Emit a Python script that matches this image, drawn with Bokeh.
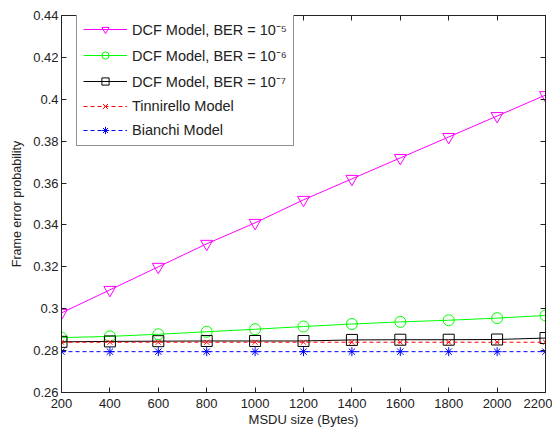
from bokeh.plotting import figure
from bokeh.models import (LinearAxis, FixedTicker, NumeralTickFormatter, Range1d,
                          Legend, LegendItem)
from bokeh.embed import file_html
from bokeh.resources import INLINE

msdu = [200, 400, 600, 800, 1000, 1200, 1400, 1600, 1800, 2000, 2200]
dcf_1e5 = [0.298, 0.309, 0.320, 0.331, 0.341, 0.352, 0.362, 0.372, 0.382, 0.392, 0.402]
dcf_1e6 = [0.2862, 0.2868, 0.2878, 0.2890, 0.2902, 0.2915, 0.2927, 0.2937, 0.2945, 0.2955, 0.2968]
dcf_1e7 = [0.2842, 0.2844, 0.2845, 0.2846, 0.2846, 0.2846, 0.2851, 0.2852, 0.2852, 0.2853, 0.2860]
tinnirello = [0.2840] * 11
bianchi = [0.2795] * 11

x_ticks = [200, 400, 600, 800, 1000, 1200, 1400, 1600, 1800, 2000, 2200]
y_ticks = [0.26, 0.28, 0.30, 0.32, 0.34, 0.36, 0.38, 0.40, 0.42, 0.44]

FONT = "Liberation Sans"

p = figure(width=552, height=429, output_backend="svg", toolbar_location=None,
           x_range=Range1d(200, 2200), y_range=Range1d(0.26, 0.44),
           min_border_left=61, min_border_right=7, min_border_top=15, min_border_bottom=36)
p.xgrid.visible = False
p.ygrid.visible = False
p.outline_line_color = "#222222"
p.outline_line_width = 1

def style_axis(ax, labels=True):
    ax.major_tick_in = 5
    ax.major_tick_out = 0
    ax.minor_tick_line_color = None
    ax.axis_line_color = "#222222"
    ax.major_tick_line_color = "#222222"
    ax.major_label_text_font = FONT
    ax.major_label_text_font_size = "13px"
    ax.major_label_text_color = "#222222"
    ax.axis_label_text_font = FONT
    ax.axis_label_text_font_size = "13px"
    ax.axis_label_text_font_style = "normal"
    ax.axis_label_text_color = "#222222"
    if not labels:
        ax.major_label_text_font_size = "0px"
        ax.major_label_text_color = None

p.xaxis.ticker = FixedTicker(ticks=x_ticks)
p.yaxis.ticker = FixedTicker(ticks=y_ticks)
p.yaxis.formatter = NumeralTickFormatter(format="0.[00]")
p.xaxis.axis_label = "MSDU size (Bytes)"
p.yaxis.axis_label = "Frame error probability"
style_axis(p.xaxis[0])
style_axis(p.yaxis[0])
p.yaxis.axis_label_text_font_size = "12.5px"
p.xaxis.major_label_standoff = 6
p.yaxis.major_label_standoff = 3
p.xaxis.axis_label_standoff = 1
p.yaxis.axis_label_standoff = 6

top = LinearAxis(ticker=FixedTicker(ticks=x_ticks))
style_axis(top, labels=False)
right = LinearAxis(ticker=FixedTicker(ticks=y_ticks))
style_axis(right, labels=False)
p.add_layout(top, "above")
p.add_layout(right, "right")

l1 = p.line(msdu, dcf_1e5, line_color="#FF00FF", line_width=1)
m1 = p.scatter(msdu, dcf_1e5, marker="inverted_triangle", size=12, fill_color=None,
               line_color="#FF00FF", line_width=1)
l2 = p.line(msdu, dcf_1e6, line_color="#00FF00", line_width=1)
m2 = p.scatter(msdu, dcf_1e6, marker="circle", size=11, fill_color=None,
               line_color="#00FF00", line_width=1)
l3 = p.line(msdu, dcf_1e7, line_color="#000000", line_width=1)
m3 = p.scatter(msdu, dcf_1e7, marker="square", size=11, fill_color=None,
               line_color="#000000", line_width=1)
l4 = p.line(msdu, tinnirello, line_color="#FF0000", line_width=1, line_dash="4 3")
m4 = p.scatter(msdu, tinnirello, marker="x", size=7, line_color="#FF0000", line_width=1)
l5 = p.line(msdu, bianchi, line_color="#0000FF", line_width=1, line_dash="4 3")
m5 = p.scatter(msdu, bianchi, marker="asterisk", size=9, line_color="#0000FF", line_width=1)

legend = Legend(items=[
    LegendItem(label="DCF Model, BER = 10⁻⁵", renderers=[l1, m1]),
    LegendItem(label="DCF Model, BER = 10⁻⁶", renderers=[l2, m2]),
    LegendItem(label="DCF Model, BER = 10⁻⁷", renderers=[l3, m3]),
    LegendItem(label="Tinnirello Model", renderers=[l4, m4]),
    LegendItem(label="Bianchi Model", renderers=[l5, m5]),
], location=(15, 246))
legend.label_text_font = FONT
legend.label_text_font_size = "14.5px"
legend.label_text_color = "#222222"
legend.glyph_width = 44
legend.glyph_height = 18
legend.label_height = 18
legend.spacing = 6
legend.padding = 6
legend.margin = 0
legend.label_standoff = 5
legend.border_line_color = "#222222"
legend.border_line_width = 1
legend.background_fill_alpha = 1
p.add_layout(legend, "center")

open("out.html", "w").write(file_html(p, INLINE))
